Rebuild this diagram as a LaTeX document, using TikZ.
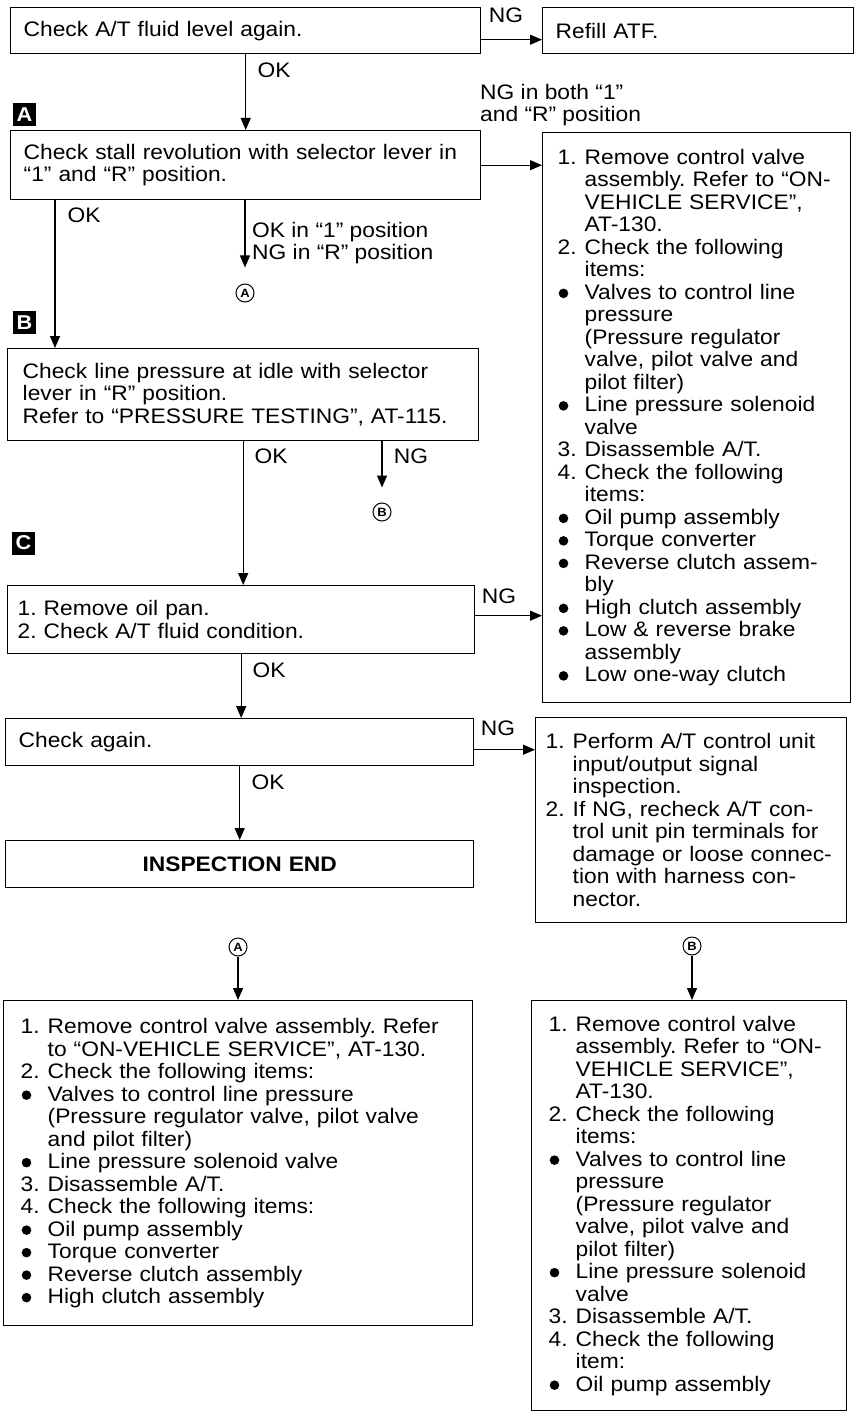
\documentclass[tikz,border=0pt]{standalone}
\usepackage{fontspec}
\setmainfont[FakeStretch=1.085]{Liberation Sans}
\usetikzlibrary{arrows.meta,positioning}
\frenchspacing
\newcommand{\mk}[1]{\makebox[27pt][l]{#1}}
\newcommand{\bul}{\mk{\hspace{1pt}\tikz[baseline=-6pt]\fill (0pt,0pt) circle (4.8pt);}}
\tikzset{
  chk/.style={draw, line width=1.4pt, rectangle, anchor=north west, inner ysep=0pt,
              inner xsep=13pt, align=left, font=\fontsize{21}{22.5}\selectfont},
  lbl/.style={inner sep=0pt, font=\fontsize{21}{22.5}\selectfont},
  stepmark/.style={fill=black, text=white, minimum size=23pt, inner sep=0pt,
                   font=\bfseries\fontsize{20}{20}\selectfont},
  conn/.style={draw, circle, line width=1pt, minimum size=18pt, inner sep=0pt,
               font=\bfseries\fontsize{12}{12}\selectfont},
  flow/.style={-{Triangle[length=12pt,width=10pt]}, line width=1.3pt},
}
\begin{document}
\begin{tikzpicture}[x=1pt,y=-1pt]
  \useasboundingbox (0,0) rectangle (855,1412);

  % main column
  \node[chk, text width=444pt, minimum height=46pt] (fluid) at (10,7) {Check A/T fluid level again.};
  \node[chk, text width=285pt, minimum height=46pt] (refill) at (542,7) {Refill ATF.};
  \node[chk, text width=444pt, minimum height=69pt] (stall) at (10,130)
    {Check stall revolution with selector lever in\\“1” and “R” position.};
  \node[chk, inner xsep=15pt, text width=441pt, minimum height=92pt] (press) at (7,348)
    {Check line pressure at idle with selector\\lever in “R” position.\\Refer to “PRESSURE TESTING”, AT-115.};
  \node[chk, inner xsep=10pt, text width=447pt, minimum height=68pt] (oilpan) at (7,585)
    {1. Remove oil pan.\\2. Check A/T fluid condition.};
  \node[chk, text width=442pt, minimum height=47pt] (again) at (5,718) {Check again.};
  \node[chk, text width=442pt, minimum height=47pt, align=center, font=\bfseries\fontsize{21}{22.5}\selectfont]
    (inspend) at (5,840) {INSPECTION END};

  % step marks
  \node[stepmark] (mA) at (24.5,114.5) {A};
  \node[stepmark] (mB) at (24.5,322.5) {B};
  \node[stepmark] (mC) at (23.5,543) {C};

  % right column
  \node[chk, inner xsep=15pt, text width=278pt, minimum height=570pt] (ngboth) at (542,132)
    {\mk{1.}Remove control valve\\\mk{}assembly. Refer to “ON-\\\mk{}VEHICLE SERVICE”,\\\mk{}AT-130.\\
     \mk{2.}Check the following\\\mk{}items:\\
     \bul Valves to control line\\\mk{}pressure\\\mk{}(Pressure regulator\\\mk{}valve, pilot valve and\\\mk{}pilot filter)\\
     \bul Line pressure solenoid\\\mk{}valve\\
     \mk{3.}Disassemble A/T.\\
     \mk{4.}Check the following\\\mk{}items:\\
     \bul Oil pump assembly\\\bul Torque converter\\\bul Reverse clutch assem-\\\mk{}bly\\
     \bul High clutch assembly\\\bul Low \& reverse brake\\\mk{}assembly\\\bul Low one-way clutch};
  \node[chk, inner xsep=10pt, text width=291pt, minimum height=205pt] (unit) at (535,717)
    {\mk{1.}Perform A/T control unit\\\mk{}input/output signal\\\mk{}inspection.\\
     \mk{2.}If NG, recheck A/T con-\\\mk{}trol unit pin terminals for\\\mk{}damage or loose connec-\\
     \mk{}tion with harness con-\\\mk{}nector.};

  % repair boxes
  \node[conn] (ca1) at (245,293) {A};
  \node[conn] (cb1) at (382,512) {B};
  \node[conn] (ca2) at (238,947) {A};
  \node[conn] (cb2) at (692,946) {B};
  \node[chk, inner xsep=17pt, text width=435pt, minimum height=325pt] (repA) at (3,1000)
    {\mk{1.}Remove control valve assembly. Refer\\\mk{}to “ON-VEHICLE SERVICE”, AT-130.\\
     \mk{2.}Check the following items:\\
     \bul Valves to control line pressure\\\mk{}(Pressure regulator valve, pilot valve\\\mk{}and pilot filter)\\
     \bul Line pressure solenoid valve\\
     \mk{3.}Disassemble A/T.\\
     \mk{4.}Check the following items:\\
     \bul Oil pump assembly\\\bul Torque converter\\\bul Reverse clutch assembly\\\bul High clutch assembly};
  \node[chk, inner xsep=17pt, text width=281pt, minimum height=410pt] (repB) at (531,1000)
    {\mk{1.}Remove control valve\\\mk{}assembly. Refer to “ON-\\\mk{}VEHICLE SERVICE”,\\\mk{}AT-130.\\
     \mk{2.}Check the following\\\mk{}items:\\
     \bul Valves to control line\\\mk{}pressure\\\mk{}(Pressure regulator\\\mk{}valve, pilot valve and\\\mk{}pilot filter)\\
     \bul Line pressure solenoid\\\mk{}valve\\
     \mk{3.}Disassemble A/T.\\
     \mk{4.}Check the following\\\mk{}item:\\
     \bul Oil pump assembly};

  % connectors
  \draw[flow] ([yshift=-9pt]fluid.east) -- ([yshift=-9pt]fluid.east -| refill.west);
  \node[lbl] at (506,15) {NG};
  \draw[flow] (fluid.south) -- (stall.north);
  \node[lbl] at (274,70) {OK};
  \draw[flow] (stall.east) -- (stall.east -| ngboth.west);
  \node[lbl, anchor=north west, align=left] at (480,84) {NG in both “1”\\and “R” position};
  \draw[flow] ([xshift=45pt]stall.south west) -- ([xshift=45pt]stall.south west |- press.north);
  \node[lbl] at (84,215) {OK};
  \draw[flow, shorten >=16pt] (stall.south -| ca1) -- (ca1);
  \node[lbl, anchor=north west, align=left] at (252,222) {OK in “1” position\\NG in “R” position};
  \draw[flow] (press.south) -- (press.south |- oilpan.north);
  \node[lbl] at (271,456) {OK};
  \draw[flow, shorten >=15pt] (cb1 |- press.south) -- (cb1);
  \node[lbl] at (411,456) {NG};
  \draw[flow] ([yshift=4pt]oilpan.east) -- ([yshift=4pt]oilpan.east -| ngboth.west);
  \node[lbl] at (499,596) {NG};
  \draw[flow] (oilpan.south) -- (oilpan.south |- again.north);
  \node[lbl] at (269,670) {OK};
  \draw[flow] ([yshift=-7.5pt]again.east) -- ([yshift=-7.5pt]again.east -| unit.west);
  \node[lbl] at (498,728) {NG};
  \draw[flow] (again.south) -- (inspend.north);
  \node[lbl] at (268,782) {OK};
  \draw[flow] (ca2) -- (ca2 |- repA.north);
  \draw[flow] (cb2) -- (cb2 |- repB.north);
\end{tikzpicture}
\end{document}
